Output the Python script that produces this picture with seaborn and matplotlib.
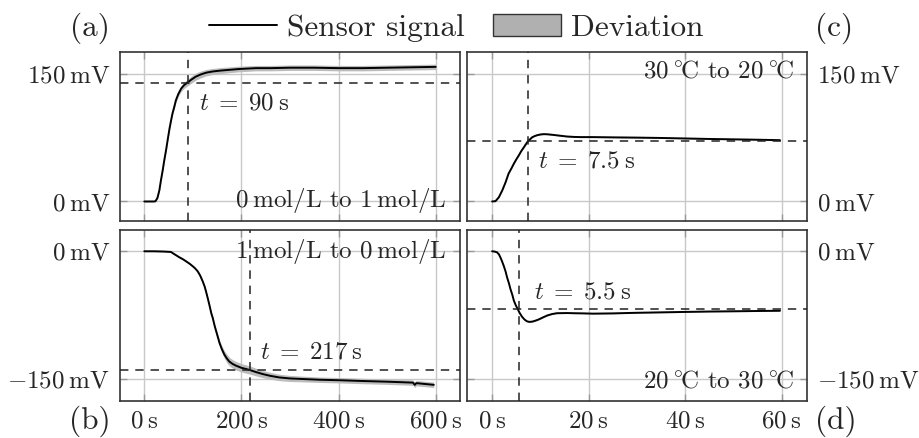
import numpy as np
import pandas as pd
import matplotlib
matplotlib.use("Agg")
import matplotlib.pyplot as plt
import seaborn as sns
from matplotlib.lines import Line2D
from matplotlib.patches import Patch

# ---------------- data ----------------
# (a) 0 mol/L -> 1 mol/L
t_a = [0, 10, 20, 23, 27, 31, 34, 38, 41, 45, 48, 52, 55, 58, 62, 65, 70, 76, 82, 89,
       97, 106, 116, 127, 140, 155, 175, 196, 230, 260, 300, 350, 400, 450, 500, 550, 600]
v_a = [0, 0, 0, 0.3, 4, 13, 24, 37, 48, 61, 72, 86, 95, 103.5, 112, 119, 126.5, 133, 137, 140,
       143.5, 147, 149.5, 151.6, 153, 154, 155, 156, 157, 157, 157.5, 157.5, 157, 157, 157.5, 158, 158.5]
dev_a = [0.5, 0.5, 0.5, 0.6, 1, 1.2, 1.5, 1.5, 1.5, 1.5, 1.5, 1.5, 1.8, 2, 2.3, 2.6, 3, 3.4, 3.8, 4,
         4.2, 4.2, 4, 3.8, 3.6, 3.5, 3.4, 3.3, 3.2, 3.2, 3.2, 3.2, 3.2, 3.2, 3.2, 3.2, 3.2]
thr_a = 139.5
tr_a = 90

# (b) 1 mol/L -> 0 mol/L
t_b = [0, 20, 40, 55, 58, 65, 72, 80, 86, 93, 100, 105, 110, 115, 120, 124, 127, 131, 134, 138,
       141, 145, 148, 152, 155, 160, 165, 170, 175, 182, 189, 200, 217, 230, 245, 260, 278, 300,
       320, 360, 403, 450, 500, 553, 557, 560, 596]
v_b = [0, 0, -0.3, -0.8, -2, -4.5, -7, -9.5, -11.8, -14.5, -17.7, -20.3, -23.6, -28.5, -35, -41, -47,
       -56, -63, -73, -78.5, -88, -94, -102, -108, -115.5, -121.6, -126, -129.6, -132.5, -134.5,
       -137, -139.5, -142, -144.5, -146.5, -148.3, -149.5, -150, -151, -151.6, -152.5, -153.3,
       -154.4, -157, -155, -157]
dev_b = [0.5, 0.5, 0.5, 0.6, 0.8, 1, 1, 1, 1, 1, 1, 1, 1.2, 1.3, 1.5, 1.5, 1.5, 1.5, 1.5, 1.8,
         2, 2.2, 2.5, 3, 3.4, 4, 4.5, 5, 5, 5, 5, 5, 4.8, 4.5, 4.2, 4, 3.8, 3.6, 3.4, 3.2, 3.2,
         3.2, 3.2, 3.2, 3.2, 3.2, 3.2]
thr_b = -139.5
tr_b = 217

# (c) 30 °C -> 20 °C
t_c = [0, 0.7, 1.4, 2.1, 2.8, 3.4, 4.0, 4.5, 5.0, 5.5, 6.0, 6.6, 7.0, 7.4, 7.9, 8.3, 8.8, 9.3,
       10.0, 10.7, 11.5, 12.8, 14, 15.5, 17, 18.3, 20.9, 25, 30, 34.8, 40, 45, 48.6, 55, 59.6]
v_c = [0, 0.4, 5, 13, 22.8, 32.7, 39, 44.5, 49.5, 54, 59, 64, 67.5, 70.8, 73.5, 75.6, 77, 78,
       78.9, 79.3, 79.1, 78.3, 77.5, 76.5, 76, 75.8, 75.8, 75.5, 75.2, 74.8, 74.2, 73.6, 73.3,
       72.7, 72.2]
dev_c = [0.6] * len(t_c)
thr_c = 70.7
tr_c = 7.5

# (d) 20 °C -> 30 °C
t_d = [0, 0.5, 1.0, 1.4, 1.7, 2.0, 2.4, 2.8, 3.1, 3.5, 3.8, 4.2, 4.5, 4.9, 5.3, 5.7, 6.2, 6.7,
       7.2, 7.7, 8.3, 9.0, 9.7, 10.5, 11.4, 12.4, 13.4, 15.5, 17, 19, 20.9, 25, 30, 34.8, 40,
       45, 48.6, 55, 59.6]
v_d = [0, -0.3, -1.2, -3.5, -7, -11, -17, -24, -30.7, -38, -44.5, -51.5, -58, -63.5, -68, -72.5,
       -77, -80.2, -82.3, -83, -82.7, -81.5, -80, -77.8, -75.5, -73.8, -72.8, -72.6, -72.8, -73.0,
       -73.3, -73, -72.3, -71.8, -71.3, -70.8, -70.6, -70.2, -69.9]
dev_d = [0.6] * len(t_d)
thr_d = -67.9
tr_d = 5.5

xticks_long = [0, 200, 400, 600]
xticks_short = [0, 20, 40, 60]
xlabels_long = [r"$0\:\mathrm{s}$", r"$200\:\mathrm{s}$", r"$400\:\mathrm{s}$", r"$600\:\mathrm{s}$"]
xlabels_short = [r"$0\:\mathrm{s}$", r"$20\:\mathrm{s}$", r"$40\:\mathrm{s}$", r"$60\:\mathrm{s}$"]
yticks_pos = [0, 150]
yticks_neg = [-150, 0]
ylabels_pos = [r"$0\:\mathrm{mV}$", r"$150\:\mathrm{mV}$"]
ylabels_neg = [r"$-150\:\mathrm{mV}$", r"$0\:\mathrm{mV}$"]

cond_a = r"$0\:\mathrm{mol/L}$ to $1\:\mathrm{mol/L}$"
cond_b = r"$1\:\mathrm{mol/L}$ to $0\:\mathrm{mol/L}$"
cond_c = r"$30\:^{\circ}\!\mathrm{C}$ to $20\:^{\circ}\!\mathrm{C}$"
cond_d = r"$20\:^{\circ}\!\mathrm{C}$ to $30\:^{\circ}\!\mathrm{C}$"
tlab_a = r"$t\;=\;90\:\mathrm{s}$"
tlab_b = r"$t\;=\;217\:\mathrm{s}$"
tlab_c = r"$t\;=\;7.5\:\mathrm{s}$"
tlab_d = r"$t\;=\;5.5\:\mathrm{s}$"

# ---------------- style ----------------
sns.set_theme(style="white")
TICK_FS = 18
BIG_FS = 22.5
plt.rcParams["font.family"] = ["cmr10", "DejaVu Serif"]
plt.rcParams["mathtext.fontset"] = "cm"
plt.rcParams["axes.unicode_minus"] = True
plt.rcParams["axes.formatter.use_mathtext"] = True
plt.rcParams["xtick.labelsize"] = TICK_FS
plt.rcParams["ytick.labelsize"] = TICK_FS

GRID_C = "#c8c8c8"
DEV_C = "#bcbcbc"

fig = plt.figure(figsize=(9.19, 4.38), dpi=100)
W, H = 919.0, 438.0

def axrect(x0, y0, x1, y1):
    return [x0 / W, 1 - y1 / H, (x1 - x0) / W, (y1 - y0) / H]

ax_a = fig.add_axes(axrect(120, 52, 460, 221))
ax_c = fig.add_axes(axrect(467, 52, 807, 221))
ax_b = fig.add_axes(axrect(120, 230, 460, 401))
ax_d = fig.add_axes(axrect(467, 230, 807, 401))

panels = [
    (ax_a, t_a, v_a, dev_a, thr_a, tr_a, (-50, 650), (-23, 176), xticks_long, xlabels_long,
     yticks_pos, ylabels_pos, False, "left", tlab_a, (113, 116), cond_a, 0.124),
    (ax_b, t_b, v_b, dev_b, thr_b, tr_b, (-50, 650), (-176, 25), xticks_long, xlabels_long,
     yticks_neg, ylabels_neg, True, "left", tlab_b, (238, -119), cond_b, 0.873),
    (ax_c, t_c, v_c, dev_c, thr_c, tr_c, (-5.2, 65.2), (-23, 176), xticks_short, xlabels_short,
     yticks_pos, ylabels_pos, False, "right", tlab_c, (9.5, 47), cond_c, 0.883),
    (ax_d, t_d, v_d, dev_d, thr_d, tr_d, (-5.2, 65.2), (-176, 25), xticks_short, xlabels_short,
     yticks_neg, ylabels_neg, True, "right", tlab_d, (8.6, -48), cond_d, 0.113),
]

for (ax, t, v, dev, thr, tr, xl, yl, xt, xtl, yt, ytl, showx, yside, tlab, tpos, cond, cy) in panels:
    df = pd.DataFrame({"t": t, "v": v, "dev": dev})
    ax.fill_between(df["t"], df["v"] - df["dev"], df["v"] + df["dev"],
                    color=DEV_C, lw=0, zorder=2)
    sns.lineplot(data=df, x="t", y="v", ax=ax, color="black", lw=1.4,
                 estimator=None, sort=False, zorder=3)
    ax.axhline(thr, color="#222222", lw=1.1, dashes=(5.5, 4.5), zorder=4)
    ax.axvline(tr, color="#222222", lw=1.1, dashes=(5.5, 4.5), zorder=4)
    ax.set_xlim(*xl)
    ax.set_ylim(*yl)
    ax.set_xticks(xt)
    ax.set_yticks(yt)
    ax.set_xticklabels(xtl if showx else [], fontsize=TICK_FS)
    ax.set_yticklabels(ytl, fontsize=TICK_FS)
    ax.set_xlabel("")
    ax.set_ylabel("")
    ax.grid(True, color=GRID_C, lw=1.0)
    ax.set_axisbelow(True)
    ax.tick_params(axis="both", direction="in", length=5, width=1.0, color="#999999",
                   top=True, right=True, bottom=True, left=True,
                   labelbottom=showx, labelleft=(yside == "left"), labelright=(yside == "right"),
                   pad=7)
    for lab in ax.get_xticklabels() + ax.get_yticklabels():
        lab.set_fontsize(TICK_FS)
    for s in ax.spines.values():
        s.set_color("#333333")
        s.set_linewidth(1.2)
    ax.text(tpos[0], tpos[1], tlab, fontsize=TICK_FS, ha="left", va="center", zorder=5)
    ax.text(0.96, cy, cond, transform=ax.transAxes, fontsize=TICK_FS,
            ha="right", va="center", zorder=5)

# panel labels
fig.text(90 / W, 1 - 28 / H, "(a)", fontsize=BIG_FS, ha="center", va="center")
fig.text(834 / W, 1 - 28 / H, "(c)", fontsize=BIG_FS, ha="center", va="center")
fig.text(90 / W, 1 - 421 / H, "(b)", fontsize=BIG_FS, ha="center", va="center")
fig.text(836 / W, 1 - 421 / H, "(d)", fontsize=BIG_FS, ha="center", va="center")

handles = [Line2D([0], [0], color="black", lw=1.4),
           Patch(facecolor="#b0b0b0", edgecolor="#333333", lw=1.0)]
fig.legend(handles, ["Sensor signal", "Deviation"], loc="center",
           bbox_to_anchor=(456 / W, 1 - 28 / H), ncol=2, frameon=False,
           fontsize=BIG_FS, handlelength=2.2, handletextpad=0.3, columnspacing=0.9,
           borderaxespad=0, borderpad=0)

fig.savefig("out.png", dpi=100)
